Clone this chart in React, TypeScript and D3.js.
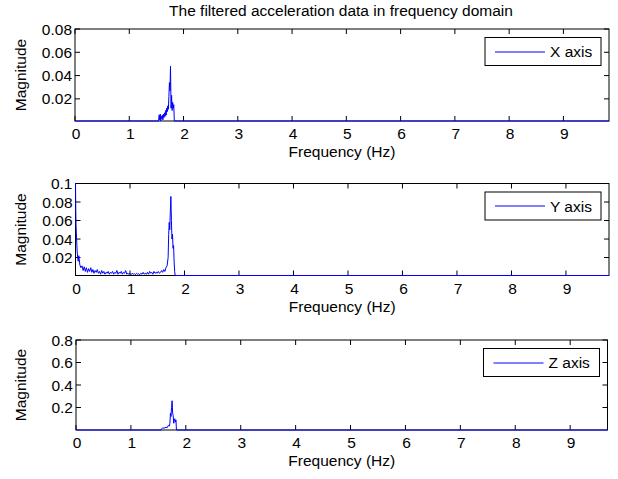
import React from "react";
import * as d3 from "d3";

// ---------- data ----------
const xTickValues = [0, 1, 2, 3, 4, 5, 6, 7, 8, 9];
const xTickLabels = ["0", "1", "2", "3", "4", "5", "6", "7", "8", "9"];

const xAxisFreq = [0, 1.54, 1.55, 1.56, 1.57, 1.58, 1.59, 1.6, 1.61, 1.62, 1.63, 1.64, 1.65, 1.66, 1.67, 1.68, 1.69, 1.7, 1.71, 1.72, 1.73, 1.74, 1.75, 1.76, 1.77, 1.78, 1.79, 1.8, 1.81, 1.82, 1.83, 9.84];
const xAxisMag = [0, 0, 0.006, 0.002, 0.007, 0.0, 0.005, 0.003, 0.006, 0.002, 0.007, 0.004, 0.008, 0.005, 0.01, 0.006, 0.012, 0.009, 0.014, 0.011, 0.022, 0.034, 0.027, 0.048, 0.012, 0.023, 0.01, 0.017, 0.012, 0.015, 0, 0];

const yAxisFreq = [0, 0.005, 0.01, 0.02, 0.03, 0.04, 0.05, 0.06, 0.08, 0.1, 0.12, 0.14, 0.16, 0.18, 0.2, 0.22, 0.24, 0.26, 0.28, 0.3, 0.32, 0.34, 0.36, 0.38, 0.4, 0.42, 0.44, 0.46, 0.48, 0.5, 0.52, 0.54, 0.56, 0.58, 0.6, 0.62, 0.64, 0.66, 0.68, 0.7, 0.72, 0.74, 0.76, 0.78, 0.8, 0.82, 0.84, 0.86, 0.88, 0.9, 0.92, 0.94, 0.96, 0.98, 1.0, 1.02, 1.04, 1.06, 1.08, 1.1, 1.12, 1.14, 1.16, 1.18, 1.2, 1.22, 1.24, 1.26, 1.28, 1.3, 1.32, 1.34, 1.36, 1.38, 1.4, 1.42, 1.44, 1.46, 1.48, 1.5, 1.52, 1.54, 1.56, 1.58, 1.6, 1.62, 1.64, 1.66, 1.68, 1.7, 1.71, 1.72, 1.73, 1.74, 1.75, 1.76, 1.77, 1.78, 1.79, 1.8, 1.81, 1.82, 1.83, 9.79];
const yAxisMag = [0.105, 0.072, 0.055, 0.04, 0.027, 0.02, 0.016, 0.022, 0.012, 0.009, 0.011, 0.006, 0.01, 0.005, 0.009, 0.004, 0.008, 0.005, 0.009, 0.004, 0.007, 0.003, 0.006, 0.004, 0.007, 0.003, 0.005, 0.002, 0.006, 0.003, 0.005, 0.002, 0.004, 0.003, 0.005, 0.002, 0.004, 0.003, 0.005, 0.002, 0.004, 0.003, 0.006, 0.002, 0.004, 0.003, 0.005, 0.002, 0.004, 0.003, 0.006, 0.002, 0.003, 0.002, 0.003, 0.0015, 0.003, 0.002, 0.0025, 0.0015, 0.003, 0.002, 0.0025, 0.0015, 0.003, 0.002, 0.004, 0.002, 0.003, 0.002, 0.004, 0.002, 0.005, 0.003, 0.004, 0.002, 0.005, 0.003, 0.004, 0.003, 0.005, 0.003, 0.004, 0.006, 0.004, 0.007, 0.005, 0.009, 0.011, 0.02, 0.045, 0.058, 0.05, 0.07, 0.086, 0.06, 0.04, 0.045, 0.03, 0.033, 0.015, 0.005, 0, 0];

const zAxisFreq = [0, 1.55, 1.56, 1.58, 1.6, 1.62, 1.64, 1.66, 1.68, 1.7, 1.71, 1.72, 1.73, 1.74, 1.75, 1.76, 1.77, 1.78, 1.79, 1.8, 1.81, 1.82, 1.83, 9.68];
const zAxisMag = [0, 0, 0.01, 0.02, 0.015, 0.02, 0.025, 0.02, 0.04, 0.035, 0.06, 0.15, 0.12, 0.2, 0.26, 0.15, 0.13, 0.06, 0.09, 0.1, 0.07, 0.09, 0, 0];

const xPanelYTicks = [0.02, 0.04, 0.06, 0.08];
const xPanelYLabels = ["0.02", "0.04", "0.06", "0.08"];
const yPanelYTicks = [0.02, 0.04, 0.06, 0.08, 0.1];
const yPanelYLabels = ["0.02", "0.04", "0.06", "0.08", "0.1"];
const zPanelYTicks = [0.2, 0.4, 0.6, 0.8];
const zPanelYLabels = ["0.2", "0.4", "0.6", "0.8"];

const seriesNames = ["X axis", "Y axis", "Z axis"];
const titleText = "The filtered acceleration data in frequency domain";
const xLabelText = "Frequency (Hz)";
const yLabelText = "Magnitude";

// ---------- layout ----------
const W = 618;
const H = 479;
const FONT = "'Liberation Sans', Arial, Helvetica, sans-serif";
const BLUE = "#0000ff";
const TICK = 5;
const FS = 15.5;

const panels = [
  { name: seriesNames[0], freq: xAxisFreq, mag: xAxisMag, yTicks: xPanelYTicks, yLabels: xPanelYLabels, xMax: 9.84, yMin: 0.001, yMax: 0.08, l: 75, r: 609, t: 29, b: 121 },
  { name: seriesNames[1], freq: yAxisFreq, mag: yAxisMag, yTicks: yPanelYTicks, yLabels: yPanelYLabels, xMax: 9.79, yMin: 0.0006, yMax: 0.1, l: 75.5, r: 609, t: 183.5, b: 275.5 },
  { name: seriesNames[2], freq: zAxisFreq, mag: zAxisMag, yTicks: zPanelYTicks, yLabels: zPanelYLabels, xMax: 9.68, yMin: 0, yMax: 0.8, l: 76, r: 607.5, t: 340, b: 430 },
];

function Panel({ p }: { p: any }) {
  const x = d3.scaleLinear().domain([0, p.xMax]).range([p.l, p.r]);
  const y = d3.scaleLinear().domain([p.yMin, p.yMax]).range([p.b, p.t]).clamp(true);
  const pts: [number, number][] = p.freq.map((f: number, i: number) => [f, p.mag[i]]);
  const line = d3
    .line<[number, number]>()
    .x((d) => x(d[0]))
    .y((d) => y(d[1]));
  const legW = 116;
  const legH = 28;
  const legR = p.r - 8;
  const legT = p.t + 8.5;
  const legL = legR - legW;
  const legY = Math.round(legT + legH / 2);
  return (
    <g>
      <rect x={p.l} y={p.t} width={p.r - p.l} height={p.b - p.t} fill="#fff" stroke="#000" strokeWidth={1} />
      {xTickValues.map((v, i) => (
        <g key={"xt" + i}>
          <line x1={x(v)} x2={x(v)} y1={p.b} y2={p.b - TICK} stroke="#000" />
          <line x1={x(v)} x2={x(v)} y1={p.t} y2={p.t + TICK} stroke="#000" />
          <text x={x(v) + 1} y={p.b + 18} textAnchor="middle" fontSize={FS} fontFamily={FONT} fill="#000">
            {xTickLabels[i]}
          </text>
        </g>
      ))}
      {p.yTicks.map((v: number, i: number) => (
        <g key={"yt" + i}>
          <line x1={p.l} x2={p.l + TICK} y1={y(v)} y2={y(v)} stroke="#000" />
          <line x1={p.r} x2={p.r - TICK} y1={y(v)} y2={y(v)} stroke="#000" />
          <text x={p.l - 3} y={y(v)} dy="0.36em" textAnchor="end" fontSize={FS} fontFamily={FONT} fill="#000">
            {p.yLabels[i]}
          </text>
        </g>
      ))}
      <path d={line(pts) || ""} fill="none" stroke={BLUE} strokeWidth={1} />
      <text x={(p.l + p.r) / 2} y={p.b + 36} textAnchor="middle" fontSize={FS} fontFamily={FONT} fill="#000">
        {xLabelText}
      </text>
      <text
        transform={`translate(26,${(p.t + p.b) / 2}) rotate(-90)`}
        textAnchor="middle"
        fontSize={FS}
        fontFamily={FONT}
        fill="#000"
      >
        {yLabelText}
      </text>
      <rect x={legL} y={legT} width={legW} height={legH} fill="#fff" stroke="#000" strokeWidth={1} />
      <line x1={legL + 10} x2={legL + 60} y1={legY} y2={legY} stroke={BLUE} strokeWidth={1} />
      <text x={legL + 65} y={legT + legH / 2} dy="0.36em" fontSize={FS} fontFamily={FONT} fill="#000">
        {p.name}
      </text>
    </g>
  );
}

export default function App() {
  return (
    <svg
      width={W}
      height={H}
      style={{ position: "absolute", left: 0, top: 0, background: "#fff" }}
    >
      <rect x={0} y={0} width={W} height={H} fill="#fff" />
      <text x={341} y={16} textAnchor="middle" fontSize={15.5} fontFamily={FONT} fill="#000">
        {titleText}
      </text>
      {panels.map((p, i) => (
        <Panel key={i} p={p} />
      ))}
    </svg>
  );
}
